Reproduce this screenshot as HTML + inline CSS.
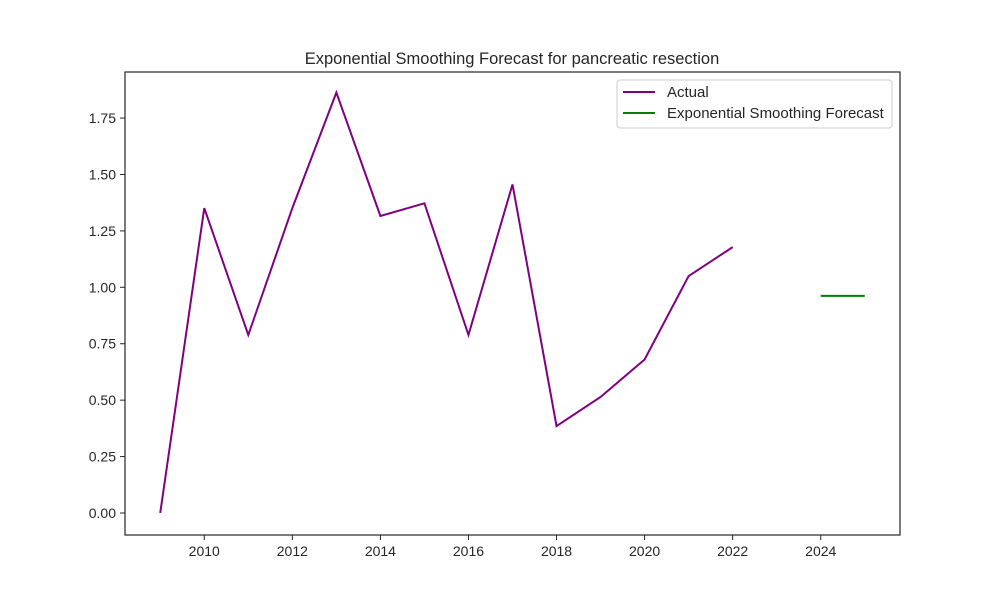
<!DOCTYPE html>
<html><head><meta charset="utf-8"><style>
body{margin:0;background:#fff}
svg text{font-family:"Liberation Sans","DejaVu Sans",sans-serif;fill:#262626}
</style></head><body>
<svg id="c" width="1000" height="600"></svg>
<script>
const years=[2009,2010,2011,2012,2013,2014,2015,2016,2017,2018,2019,2020,2021,2022];
const actual=[0,1.351,0.789,1.351,1.863,1.316,1.372,0.789,1.456,0.385,0.514,0.68,1.05,1.178];
const fcYears=[2024,2025];
const forecast=[0.962,0.962];
const xTicks=[2010,2012,2014,2016,2018,2020,2022,2024];
const yTicks=[0,0.25,0.5,0.75,1,1.25,1.5,1.75];
const L=125,R=900,T=72,B=535,x0=2008.2,x1=2025.8,y0=-0.0975,y1=1.954;
const X=v=>L+(v-x0)/(x1-x0)*(R-L);
const Y=v=>B-(v-y0)/(y1-y0)*(B-T);
const svg=document.getElementById('c');
const NS='http://www.w3.org/2000/svg';
function mk(tag,at,txt){const e=document.createElementNS(NS,tag);for(const k in at)e.setAttribute(k,at[k]);if(txt!=null)e.textContent=txt;svg.appendChild(e);return e;}
let e=mk('rect',{x:L,y:T,width:R-L,height:B-T,fill:'none',stroke:'#262626','stroke-width':1.2});


e=mk('text',{x:512,y:64,'text-anchor':'middle','font-size':16.5},'Exponential Smoothing Forecast for pancreatic resection');


xTicks.forEach(t=>{
 e=mk('line',{x1:X(t),x2:X(t),y1:B,y2:B+5,stroke:'#262626'});
 
 
 e=mk('text',{x:X(t),y:B+21,'text-anchor':'middle','font-size':14},String(t));
 
 
});
yTicks.forEach(t=>{
 e=mk('line',{x1:L-5,x2:L,y1:Y(t),y2:Y(t),stroke:'#262626'});
 
 
 e=mk('text',{x:L-9,y:Y(t)+5,'text-anchor':'end','font-size':14},t.toFixed(2));
 
 
});
e=mk('polyline',{points:years.map((y,i)=>X(y)+','+Y(actual[i])).join(' '),fill:'none',stroke:'purple','stroke-width':2});


e=mk('polyline',{points:fcYears.map((y,i)=>X(y)+','+Y(forecast[i])).join(' '),fill:'none',stroke:'green','stroke-width':2});


e=mk('rect',{x:617,y:80,width:275,height:48,rx:3,fill:'#fff',stroke:'#ccc'});


e=mk('line',{x1:623,x2:655,y1:92,y2:92,stroke:'purple','stroke-width':2});


e=mk('text',{x:667,y:97,'font-size':15},'Actual');


e=mk('line',{x1:623,x2:655,y1:113,y2:113,stroke:'green','stroke-width':2});


e=mk('text',{x:667,y:118,'font-size':15},'Exponential Smoothing Forecast');


</script>
</body></html>
